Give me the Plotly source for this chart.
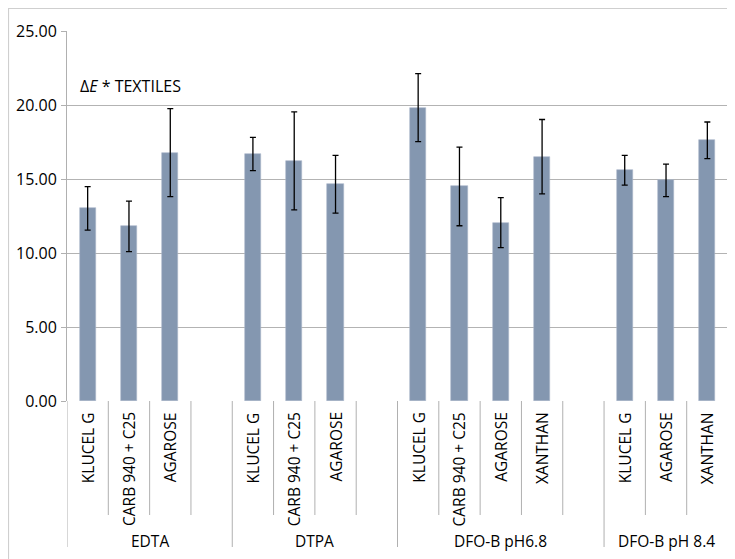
import plotly.graph_objects as go

# ---- data ----
groups = ["EDTA", "DTPA", "DFO-B pH6.8", "DFO-B pH 8.4"]
edta_items = ["KLUCEL G", "CARB 940 + C25", "AGAROSE"]
dtpa_items = ["KLUCEL G", "CARB 940 + C25", "AGAROSE"]
dfo68_items = ["KLUCEL G", "CARB 940 + C25", "AGAROSE", "XANTHAN"]
dfo84_items = ["KLUCEL G", "AGAROSE", "XANTHAN"]

edta_values = [13.02, 11.80, 16.78]
dtpa_values = [16.69, 16.22, 14.64]
dfo68_values = [19.82, 14.50, 12.05, 16.51]
dfo84_values = [15.59, 14.91, 17.61]

edta_errors = [1.47, 1.71, 2.97]
dtpa_errors = [1.12, 3.31, 1.95]
dfo68_errors = [2.30, 2.66, 1.69, 2.51]
dfo84_errors = [1.01, 1.10, 1.24]

y_ticks = [0, 5, 10, 15, 20, 25]

# ---- layout geometry (screen pixels; page body has an 8px margin) ----
OFF = 8
W, H = 735, 559
L, R, T, B = 67, 728, 31, 401
FONT = "'Open Sans', Lato, sans-serif"
TXT = "#000000"
FS = 16
FS_CAT = 15.5


def px_x(px):
    return (px - L) / (R - L)


def px_y(py):
    return (B - py) / (B - T)


group_items = [edta_items, dtpa_items, dfo68_items, dfo84_items]
group_values = [edta_values, dtpa_values, dfo68_values, dfo84_values]
group_errors = [edta_errors, dtpa_errors, dfo68_errors, dfo84_errors]

xs, ys, es, labels = [], [], [], []
group_bounds = []
slot = 0
for gi, items in enumerate(group_items):
    start = slot
    for j, it in enumerate(items):
        xs.append(slot)
        ys.append(group_values[gi][j])
        es.append(group_errors[gi][j])
        labels.append(it)
        slot += 1
    if gi < len(group_items) - 1:
        slot += 1  # blank slot
    group_bounds.append((start, slot))
n_slots = slot

fig = go.Figure()
fig.add_trace(go.Bar(
    x=xs, y=ys, width=0.39,
    marker=dict(color="#8497b0", line=dict(color="#a9b7ca", width=0.6)),
    error_y=dict(type="data", array=es, visible=True, color="#000000",
                 thickness=1.3, width=3),
    hoverinfo="y",
))

shapes = []
for s in range(n_slots + 1):
    is_group = s == 0 or any(s == gb[1] for gb in group_bounds)
    y_end = px_y(547) if is_group else px_y(515)
    shapes.append(dict(type="line", xref="x", yref="paper",
                       x0=s - 0.5, x1=s - 0.5, y0=0, y1=y_end,
                       line=dict(color="#b0b0b0", width=1)))
# outer chart border (top and left visible)
shapes.append(dict(type="line", xref="paper", yref="paper",
                   x0=px_x(OFF), x1=px_x(760), y0=px_y(OFF + 0.5), y1=px_y(OFF + 0.5),
                   line=dict(color="#cfcfcf", width=1.2)))
shapes.append(dict(type="line", xref="paper", yref="paper",
                   x0=px_x(OFF + 0.5), x1=px_x(OFF + 0.5), y0=px_y(OFF), y1=px_y(580),
                   line=dict(color="#cfcfcf", width=1.2)))

annotations = []
for x, lab in zip(xs, labels):
    annotations.append(dict(x=x, y=px_y(410), xref="x", yref="paper",
                            text=lab, textangle=-90, showarrow=False,
                            xanchor="center", yanchor="top",
                            font=dict(family=FONT, size=FS_CAT, color=TXT)))
for g, (a, b) in zip(groups, group_bounds):
    annotations.append(dict(x=(a + b) / 2 - 0.5, y=px_y(541), xref="x", yref="paper",
                            text=g, showarrow=False, xanchor="center", yanchor="middle",
                            font=dict(family=FONT, size=FS_CAT, color=TXT)))
annotations.append(dict(x=px_x(78), y=px_y(86), xref="paper", yref="paper",
                        text="Δ<i>E</i> * TEXTILES", showarrow=False,
                        xanchor="left", yanchor="middle",
                        font=dict(family=FONT, size=FS, color=TXT)))

fig.update_layout(
    width=W, height=H,
    margin=dict(l=L - OFF, r=W - (R - OFF), t=T - OFF, b=H - (B - OFF), autoexpand=False),
    paper_bgcolor="#ffffff", plot_bgcolor="#ffffff",
    showlegend=False, bargap=0,
    shapes=shapes, annotations=annotations,
    font=dict(family=FONT, size=FS, color=TXT),
    xaxis=dict(range=[-0.5, n_slots - 0.5], showticklabels=False, showgrid=False,
               zeroline=False, showline=False, ticks="", fixedrange=True,
               automargin=False),
    yaxis=dict(range=[0, 25], tickvals=y_ticks, tickformat=".2f",
               showgrid=True, gridcolor="#b3b3b3", gridwidth=1,
               zeroline=False, showline=True, linecolor="#b0b0b0", linewidth=1,
               ticks="outside", ticklen=5, tickcolor="#b0b0b0", ticklabelstandoff=1,
               automargin=False,
               tickfont=dict(family=FONT, size=FS, color=TXT), fixedrange=True),
)

fig.write_html("out.html")
